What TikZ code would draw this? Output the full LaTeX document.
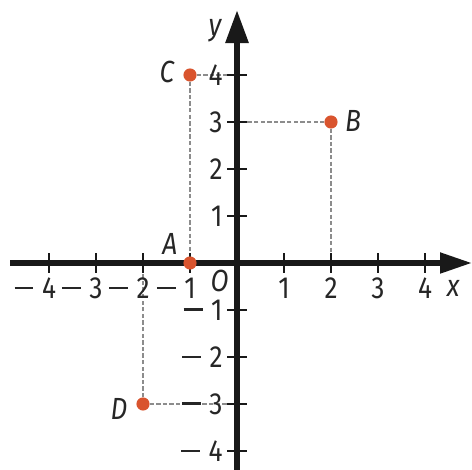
\documentclass[tikz,border=0pt]{standalone}
\usepackage{fontspec}
\setmainfont{Fira Sans}[FakeStretch=0.86]
\usetikzlibrary{arrows.meta}
\definecolor{ptcol}{RGB}{217,84,46}
\definecolor{dashcol}{RGB}{140,140,140}
\newcommand{\mns}{\rule[0.3em]{0.62em}{0.085em}\hspace{0.28em}}
\tikzset{
  axisline/.style={line width=3.4pt, draw=black!90},
  tickline/.style={line width=1.6pt, draw=black!90},
  helper/.style={draw=dashcol, line width=1.1pt, dash pattern=on 2.6pt off 1.4pt},
  ptdot/.style={circle, fill=ptcol, inner sep=0pt, minimum size=0.28cm},
  numlbl/.style={font=\fontsize{18.5}{18.5}\selectfont, text=black!85, inner sep=0pt},
  ptlbl/.style={font=\fontsize{18.5}{18.5}\selectfont\itshape, text=black!85, inner sep=0pt},
}
\begin{document}
\begin{tikzpicture}
\useasboundingbox (-5.043,-4.404) rectangle (5.0,5.596);
% point coordinates
\coordinate (A) at (-1,0);
\coordinate (B) at (2,3);
\coordinate (C) at (-1,4);
\coordinate (D) at (-2,-3);
\coordinate (By) at (0,3);
\coordinate (Bx) at (2,0);
\coordinate (Cy) at (0,4);
\coordinate (Dy) at (0,-3);
\coordinate (Dx) at (-2,0);
% helper lines
\draw[helper] (C) -- (Cy);
\draw[helper] (C) -- (A);
\draw[helper] (B) -- (By);
\draw[helper] (B) -- (Bx);
\draw[helper] (D) -- (Dy);
\draw[helper] (D) -- (Dx);
% axes
\coordinate (xs) at (-4.83,0);
\coordinate (xe) at (5.0,0);
\coordinate (ys) at (0,-4.45);
\coordinate (ye) at (0,5.38);
\draw[axisline, -{Triangle[length=0.68cm,width=0.42cm]}] (xs) -- (xe);
\draw[axisline, -{Triangle[length=0.70cm,width=0.47cm]}] (ys) -- (ye);
% ticks
\foreach \i in {-4,-3,-2,-1,1,2,3,4}{
  \draw[tickline] (\i,-0.21) -- (\i,0.21);
  \draw[tickline] (-0.21,\i) -- (0.21,\i);
}
% axis labels
\foreach \i in {1,2,3,4}{
  \node[numlbl, anchor=north] (xl\i) at (\i,-0.31) {\i};
  \node[numlbl, anchor=east] (yl\i) at (-0.3,\i) {\i};
}
\foreach \i in {1,2,3,4}{
  \node[numlbl, anchor=north] (xn\i) at (-\i,-0.31) {\llap{\mns}\i};
  \node[numlbl, anchor=east] (yn\i) at (-0.3,-\i) {\mns\i};
}
\node[ptlbl] (O) at (-0.37,-0.38) {O};
\node[ptlbl] (xlab) at (4.6,-0.55) {x};
\node[ptlbl] (ylab) at (-0.47,4.95) {y};
% points
\node[ptdot] (pA) at (A) {};
\node[ptdot] (pB) at (B) {};
\node[ptdot] (pC) at (C) {};
\node[ptdot] (pD) at (D) {};
\node[ptlbl] (lA) at (-1.43,0.40) {A};
\node[ptlbl] (lB) at (2.47,3.02) {B};
\node[ptlbl] (lC) at (-1.49,4.06) {C};
\node[ptlbl] (lD) at (-2.51,-3.11) {D};
\end{tikzpicture}
\end{document}
